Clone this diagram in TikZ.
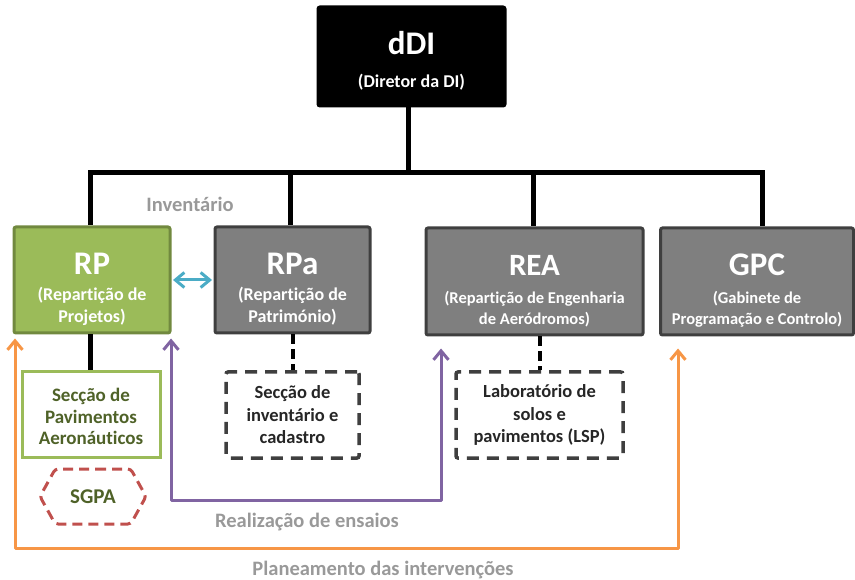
\documentclass[tikz,border=0pt]{standalone}
\usepackage{fontspec}
\setmainfont{Carlito}[Ligatures=NoCommon]
\usetikzlibrary{arrows.meta,shapes.symbols}
\definecolor{rpfill}{HTML}{9BBB59}
\definecolor{rpline}{HTML}{71893F}
\definecolor{grfill}{HTML}{7F7F7F}
\definecolor{grline}{HTML}{3F3F3F}
\definecolor{secgreen}{HTML}{4F6228}
\definecolor{sgpa}{HTML}{C0504D}
\definecolor{cyanarr}{HTML}{4BACC6}
\definecolor{purplearr}{HTML}{8064A2}
\definecolor{orangearr}{HTML}{F79646}
\definecolor{labelgray}{HTML}{999999}
\newcommand{\titlefont}{\fontsize{33}{33}\selectfont\bfseries}
\newcommand{\titlefontsm}{\fontsize{31}{31}\selectfont\bfseries}
\newcommand{\subfont}{\fontsize{18}{21.5}\selectfont\bfseries}
\newcommand{\subfontsm}{\fontsize{16.5}{21.5}\selectfont\bfseries}
\newcommand{\secfont}{\fontsize{19}{21.5}\selectfont\bfseries}
\newcommand{\dashfont}{\fontsize{18.5}{22.5}\selectfont\bfseries}
\newcommand{\up}[1]{\rule{0pt}{#1}}
\newcommand{\down}[1]{\rule[-#1]{0pt}{#1}}
\tikzset{
  unitbox/.style={rectangle, rounded corners=2pt, inner sep=0pt, align=center, text=white, line width=3pt, font=\subfont},
  headbox/.style={unitbox, fill=black, draw=black},
  greenbox/.style={unitbox, fill=rpfill, draw=rpline},
  graybox/.style={unitbox, fill=grfill, draw=grline},
  greensec/.style={rectangle, inner sep=0pt, align=center, draw=rpfill, line width=3pt, fill=white, text=secgreen, font=\secfont},
  dashsec/.style={rectangle, rounded corners=2pt, inner sep=0pt, align=center, draw=grline, line width=3.5pt, dash pattern=on 12pt off 8pt, text=black!85, font=\dashfont},
  orgline/.style={line width=5pt, black},
  orgdash/.style={line width=4pt, black, dash pattern=on 10pt off 5pt},
  barb/.tip={Straight Barb[length=9pt,width=15pt,line width=3pt]},
  flow/.style={line width=3pt, line join=round, arrows={barb-barb}},
  flowlabel/.style={text=labelgray, font=\fontsize{20.5}{22}\selectfont\bfseries, inner sep=0pt, anchor=base}
}
\begin{document}
\begin{tikzpicture}[x=1pt,y=-1pt]
\useasboundingbox (0,0) rectangle (855,580);

% director
\node[headbox, minimum width=187pt, minimum height=99pt] (dDI) at (411.5,56.5)
  {{\titlefont\up{34pt}dDI}\\[11.5pt]\down{4pt}(Diretor da DI)};

% repartições
\node[greenbox, minimum width=156pt, minimum height=106pt] (RP) at (92,280)
  {{\titlefont\up{42.5pt}RP}\\[4.5pt](Repartição de\\Projetos)\down{5pt}};
\node[graybox, minimum width=155pt, minimum height=106pt] (RPa) at (292.5,280)
  {{\titlefont\up{42.5pt}RPa}\\[4.5pt](Repartição de\\Património)\down{5pt}};
\node[graybox, font=\subfontsm, minimum width=217pt, minimum height=107pt] (REA) at (534.5,281.5)
  {{\titlefontsm\up{43pt}REA}\\[6pt](Repartição de Engenharia\\de Aeródromos)\down{5pt}};
\node[graybox, font=\subfontsm, minimum width=193pt, minimum height=107pt] (GPC) at (757,281.5)
  {{\titlefont\up{42pt}GPC}\\[7pt](Gabinete de\\Programação e Controlo)\down{5pt}};

% secções
\node[greensec, minimum width=138pt, minimum height=85pt] (SPA) at (91,414.5)
  {\up{18pt}Secção de\\Pavimentos\\Aeronáuticos};
\node[dashsec, minimum width=133pt, minimum height=86pt] (SIC) at (292.5,415)
  {Secção de\\inventário e\\cadastro};
\node[dashsec, minimum width=167pt, minimum height=86pt] (LSP) at (539.5,415)
  {Laboratório de\\solos e\\pavimentos (LSP)};
\node[signal, signal to=east and west, signal pointer angle=122, draw=sgpa, line width=3pt,
      dash pattern=on 10pt off 6pt, rounded corners=3pt, minimum width=106pt, minimum height=55pt,
      inner sep=0pt, text=secgreen, font=\fontsize{21}{22}\selectfont\bfseries] (SGPA) at (93,496.5) {SGPA};

% organigram lines
\coordinate (bus) at (408,173);
\coordinate (jRP) at (90,173);
\coordinate (jRPa) at (290,173);
\coordinate (jREA) at (533,173);
\coordinate (jGPC) at (762,173);
\draw[orgline] (dDI.south -| bus) -- (bus);
\draw[orgline, line cap=rect] (jRP) -- (jGPC);
\draw[orgline] (jRP) -- (jRP |- RP.north);
\draw[orgline] (jRPa) -- (jRPa |- RPa.north);
\draw[orgline] (jREA) -- (jREA |- REA.north);
\draw[orgline] (jGPC) -- (jGPC |- GPC.north);
\draw[orgline] (jRP |- RP.south) -- (jRP |- SPA.north);
\draw[orgdash] (RPa.south -| SIC.north) -- (SIC.north);
\draw[orgdash] (REA.south -| LSP.north) -- (LSP.north);

% flows
\coordinate (pL) at (171,500);
\coordinate (pR) at (441,500);
\coordinate (oL) at (15,548);
\coordinate (oR) at (678,548);
\draw[flow, cyanarr] ([xshift=1.5pt]RP.east) -- ([xshift=-1.5pt]RPa.west);
\draw[flow, purplearr] ([yshift=-4pt]RP.south -| pL) -- (pL) -- (pR) -- ([yshift=-12pt]REA.south -| pR);
\draw[flow, orangearr] ([yshift=-4pt]RP.south -| oL) -- (oL) -- (oR) -- ([yshift=-12pt]GPC.south -| oR);

% flow labels
\node[flowlabel] (inv) at (190,212) {Inventário};
\node[flowlabel] (ens) at (307,527) {Realização de ensaios};
\node[flowlabel] (plan) at (383,575) {Planeamento das intervenções};
\end{tikzpicture}
\end{document}
